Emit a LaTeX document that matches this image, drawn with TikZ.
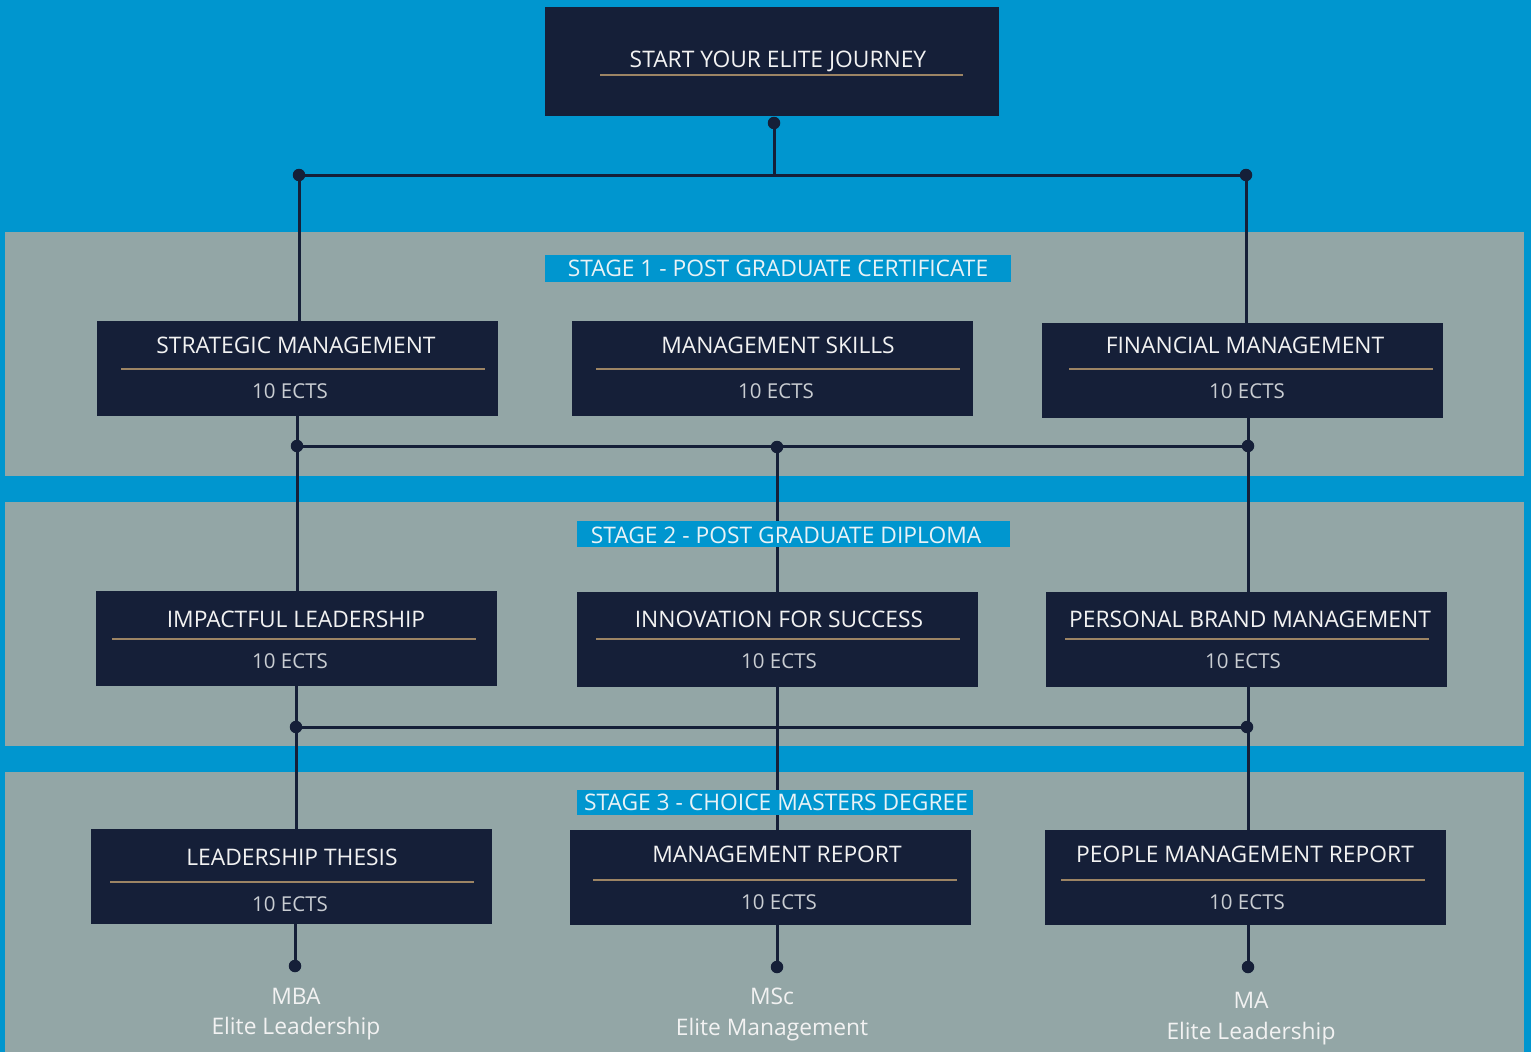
\documentclass[tikz,border=0pt]{standalone}
\usepackage{fontspec}
\setmainfont{Open Sans}
\definecolor{bgblue}{HTML}{0096CF}
\definecolor{panelgrey}{HTML}{93A6A6}
\definecolor{navy}{HTML}{151F38}
\definecolor{gold}{HTML}{9C8464}
\definecolor{txt}{HTML}{F2F2F2}
\definecolor{ectsc}{HTML}{C9CDD2}
\definecolor{labtxt}{HTML}{E8F2F6}
\tikzset{
  modbox/.style={fill=navy, draw=none, minimum width=401pt, minimum height=95pt, inner sep=0pt, anchor=north west},
  titletext/.style={text=txt, font=\fontsize{22.8}{26}\selectfont, inner sep=0pt, anchor=base},
  ectstext/.style={text=ectsc, font=\fontsize{20.5}{24}\selectfont, inner sep=0pt, anchor=base},
  goldline/.style={draw=gold, line width=2pt},
  conn/.style={draw=navy, line width=3pt},
  joint/.style={circle, fill=navy, minimum size=12.5pt, inner sep=0pt},
  stagebg/.style={fill=bgblue, draw=none, inner sep=0pt, minimum height=27pt},
  stagetext/.style={text=labtxt, font=\fontsize{22.8}{26}\selectfont, inner sep=0pt, anchor=base},
  degtext/.style={text=txt, font=\fontsize{22.8}{26}\selectfont, inner sep=0pt, anchor=base},
  panel/.style={fill=panelgrey, draw=none}
}
% #1 name, #2 left, #3 top, #4 title x, #5 title baseline, #6 title, #7 line left x, #8 line y, #9 ects x
\newcommand\modbox[9]{%
  \node[modbox] (#1) at (#2,#3) {};
  \node[titletext] (#1-t) at (#4,#5) {#6};
  \draw[goldline] (#7,#8) -- ++(364,0);
  \node[ectstext] (#1-e) at (#9,#8+29) {10 ECTS};
}
\begin{document}
\begin{tikzpicture}[x=1pt,y=-1pt]
\useasboundingbox (0,0) rectangle (1531,1052);
\fill[bgblue] (0,0) rectangle (1531,1052);
\fill[panel] (5,232) rectangle (1524,476);
\fill[panel] (5,502) rectangle (1524,746);
\fill[panel] (5,772) rectangle (1524,1052);

% junction coordinates
\coordinate (t0) at (774,123);
\coordinate (t1) at (774,175);
\coordinate (tl) at (299,175);
\coordinate (tr) at (1246,175);
\coordinate (a1) at (297,446);
\coordinate (a2) at (777,447);
\coordinate (a3) at (1248,446);
\coordinate (b1) at (296,727);
\coordinate (b2) at (777,727);
\coordinate (b3) at (1247,727);
\coordinate (e1) at (295,966);
\coordinate (e2) at (777,967);
\coordinate (e3) at (1248,967);

% box anchors
\node[modbox, minimum width=454pt, minimum height=109pt] (top) at (545,7) {};
\node[modbox] (s1) at (97,321) {};
\node[modbox] (s2) at (572,321) {};
\node[modbox] (s3) at (1042,323) {};
\node[modbox] (p1) at (96,591) {};
\node[modbox] (p2) at (577,592) {};
\node[modbox] (p3) at (1046,592) {};
\node[modbox] (q1) at (91,829) {};
\node[modbox] (q2) at (570,830) {};
\node[modbox] (q3) at (1045,830) {};

% connectors
\draw[conn] (t0) -- (t1);
\draw[conn] (tl) -- (tr);
\draw[conn] (tl) -- (tl |- s1.north);
\draw[conn] (tr) -- (tr |- s3.north);
\draw[conn] (a1 |- s1.south) -- (a1 |- p1.north);
\draw[conn] (a1) -- (a3);
\draw[conn] (a2) -- (a2 |- p2.north);
\draw[conn] (a3 |- s3.south) -- (a3 |- p3.north);
\draw[conn] (b1 |- p1.south) -- (b1 |- q1.north);
\draw[conn] (b1) -- (b3);
\draw[conn] (b2 |- p2.south) -- (b2 |- q2.north);
\draw[conn] (a3 |- p3.south) -- (a3 |- q3.north);
\draw[conn] (e1 |- q1.south) -- (e1);
\draw[conn] (e2 |- q2.south) -- (e2);
\draw[conn] (e3 |- q3.south) -- (e3);

\foreach \j in {t0,tl,tr,a1,a2,a3,b1,b3,e1,e2,e3} \node[joint] at (\j) {};

% stage label backgrounds (over the connectors)
\node[stagebg, minimum width=466pt] (st1) at (778,268) {};
\node[stagebg, minimum width=433pt, minimum height=26pt] (st2) at (793.5,534) {};
\node[stagebg, minimum width=396pt, minimum height=25pt] (st3) at (775,802.5) {};

% top box
\node[titletext] (top-t) at (778,67.5) {START YOUR ELITE JOURNEY};
\draw[goldline] (600,75) -- (963,75);

% stage 1
\modbox{s1}{97}{321}{296}{353.5}{STRATEGIC MANAGEMENT}{121}{369}{290}
\modbox{s2}{572}{321}{778}{353.5}{MANAGEMENT SKILLS}{596}{369}{776}
\modbox{s3}{1042}{323}{1245}{353.5}{FINANCIAL MANAGEMENT}{1069}{369}{1247}
% stage 2
\modbox{p1}{96}{591}{296}{627.5}{IMPACTFUL LEADERSHIP}{112}{639}{290}
\modbox{p2}{577}{592}{779}{627.5}{INNOVATION FOR SUCCESS}{596}{639}{779}
\modbox{p3}{1046}{592}{1250}{627.5}{PERSONAL BRAND MANAGEMENT}{1065}{639}{1243}
% stage 3
\modbox{q1}{91}{829}{292}{865.5}{LEADERSHIP THESIS}{110}{882}{290}
\modbox{q2}{570}{830}{777}{862.5}{MANAGEMENT REPORT}{593}{880}{779}
\modbox{q3}{1045}{830}{1245}{862.5}{PEOPLE MANAGEMENT REPORT}{1061}{880}{1247}

% stage label texts
\node[stagetext] (st1-t) at (778,276) {STAGE 1 - POST GRADUATE CERTIFICATE};
\node[stagetext] (st2-t) at (786,543) {STAGE 2 - POST GRADUATE DIPLOMA};
\node[stagetext] (st3-t) at (776,810) {STAGE 3 - CHOICE MASTERS DEGREE};

% degree labels
\node[degtext] (d1a) at (296,1004) {MBA};
\node[degtext] (d1b) at (296,1034) {Elite Leadership};
\node[degtext] (d2a) at (772,1004) {MSc};
\node[degtext] (d2b) at (772,1035) {Elite Management};
\node[degtext] (d3a) at (1251,1008) {MA};
\node[degtext] (d3b) at (1251,1039) {Elite Leadership};
\end{tikzpicture}
\end{document}
